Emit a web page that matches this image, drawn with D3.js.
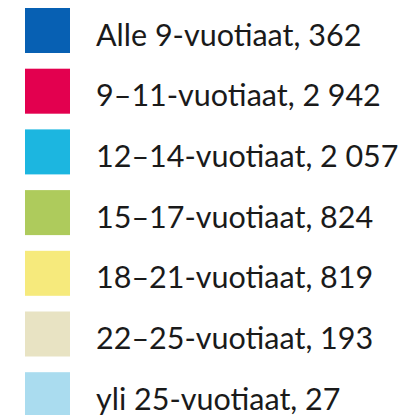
<!DOCTYPE html>
<html><head><meta charset="utf-8">
<script src="https://cdn.jsdelivr.net/npm/d3@7"></script>
<style>html,body{margin:0;padding:0;background:#fff;}svg{display:block;}</style>
</head><body>
<svg id="c" width="403" height="415"></svg>
<script>
const categories = ["Alle 9-vuotiaat","9–11-vuotiaat","12–14-vuotiaat","15–17-vuotiaat","18–21-vuotiaat","22–25-vuotiaat","yli 25-vuotiaat"];
const values = [362, 2942, 2057, 824, 819, 193, 27];
const colors = ["#0760b3","#e3004f","#1cb6e0","#aecb5c","#f6ea7c","#e8e3c3","#aadcef"];

const svg = d3.select("#c");
const fmt = v => d3.format(",")(v).replace(/,/g, "\u202F");
const step = 60.7, size = 45;
const yy = d3.scaleLinear().domain([0, 1]).range([8, 8 + step]);

const g = svg.selectAll("g.item").data(categories).join("g").attr("class","item")
  .attr("transform", (d,i) => `translate(0,${yy(i)})`);
g.append("rect").attr("x", 25).attr("y", 0).attr("width", size).attr("height", size)
  .attr("fill", (d,i) => colors[i]);
g.append("text").attr("x", 96).attr("y", 37.5).attr("font-family","Lato, 'Open Sans', sans-serif")
  .attr("font-size", 30.5).attr("fill","#1a1a1a")
  .text((d,i) => `${d}, ${fmt(values[i])}`);
</script>
</body></html>
